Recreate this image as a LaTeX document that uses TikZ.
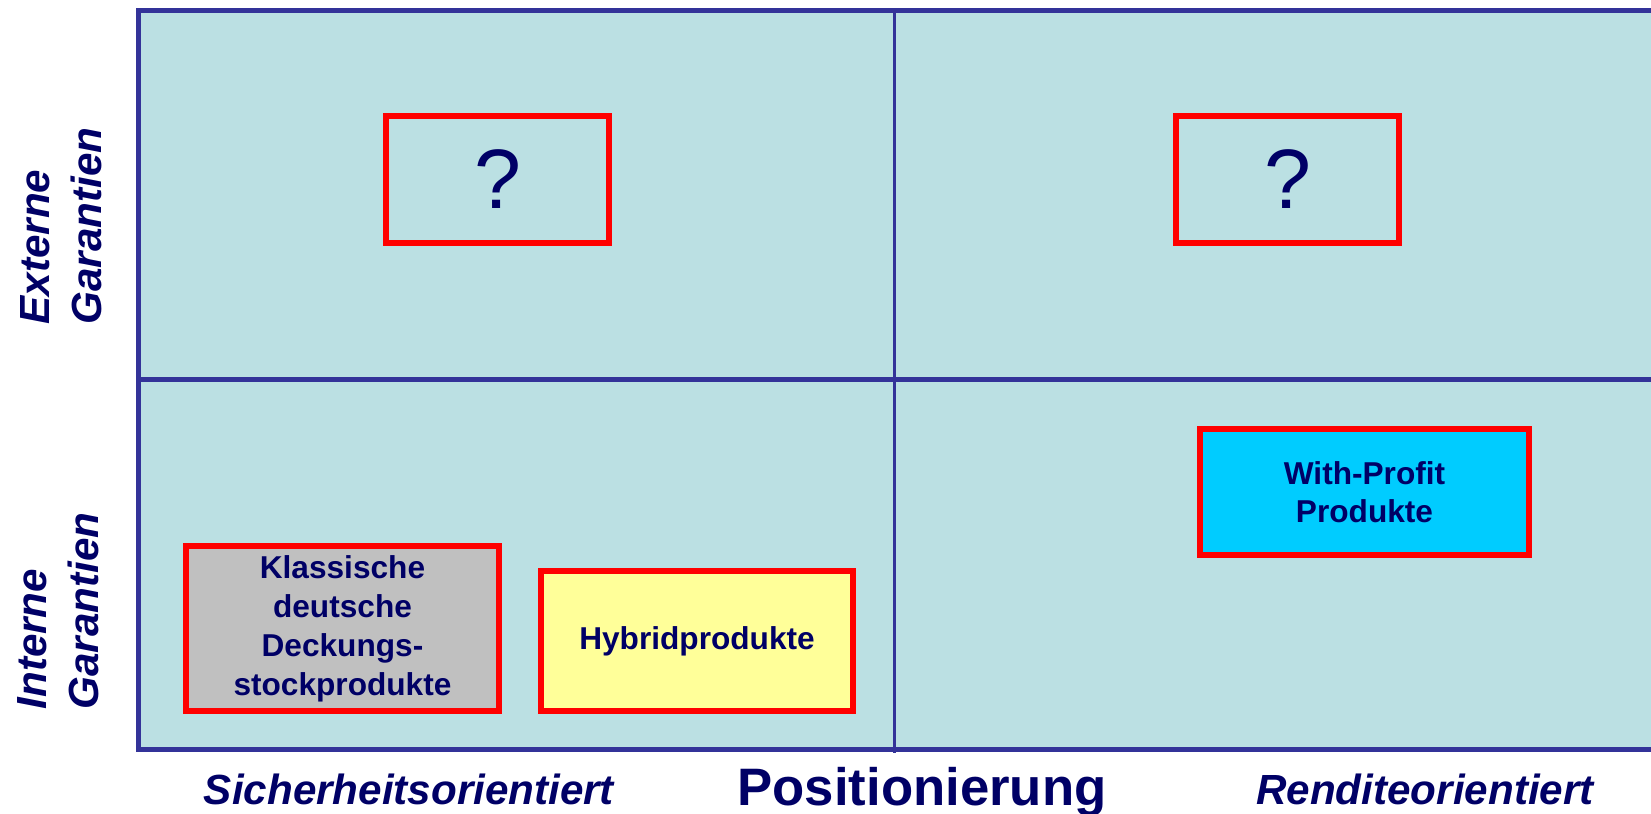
\documentclass[tikz,border=0pt]{standalone}
\usepackage{fontspec}
\setmainfont{Liberation Sans}
\usepackage{tikz}
\definecolor{quadrantTeal}{rgb}{0.733,0.878,0.890}
\definecolor{frameBlue}{rgb}{0.2,0.2,0.6}
\definecolor{textNavy}{rgb}{0,0,0.4}
\definecolor{productGray}{rgb}{0.753,0.753,0.753}
\definecolor{productYellow}{rgb}{1,1,0.6}
\definecolor{productCyan}{rgb}{0,0.8,1}

\begin{document}
\begin{tikzpicture}[x=0.02cm, y=-0.02cm,
  productBox/.style={draw=red, line width=0.12cm, inner sep=0pt, align=center, text=textNavy, font=\fontsize{18}{21.5}\selectfont\bfseries},
  openBox/.style={productBox, minimum width=4.46cm, minimum height=2.54cm, font=\fontsize{48}{56}\selectfont},
  axisLabel/.style={text=textNavy, inner sep=0pt, font=\fontsize{24}{29.5}\selectfont\bfseries\itshape}]
  \clip (0,0) rectangle (1651,814);
	% matrix frame
	\draw[line width=0.1cm, frameBlue, fill=quadrantTeal] (138,10.5) rectangle (1670,749);
	\draw[line width=0.1cm, frameBlue] (138,379.5) -- (1670,379.5);
	\draw[line width=0.06cm, frameBlue] (894,10.5) -- (894,753);
	% upper quadrants
	\node[openBox] (extSafe) at (497.5,179.5) {?};
	\node[openBox] (extYield) at (1287.5,179.5) {?};
	% lower quadrants
	\node[productBox, fill=productGray, minimum width=6.26cm, minimum height=3.3cm, font=\fontsize{18}{22.2}\selectfont\bfseries] (classic) at (342.5,628.5) {Klassische\\deutsche\\Deckungs-\\stockprodukte};
	\node[productBox, fill=productYellow, minimum width=6.24cm, minimum height=2.8cm] (hybrid) at (697,641) {Hybridprodukte};
	\node[productBox, fill=productCyan, minimum width=6.58cm, minimum height=2.52cm] (withProfit) at (1364.5,492) {With-Profit\\Produkte};
	% axis labels
	\node[axisLabel, rotate=90, align=left] (external) at (61,226) {Externe\\Garantien};
	\node[axisLabel, rotate=90, align=left] (internal) at (58,611) {Interne\\Garantien};
	\node[axisLabel, anchor=base] (safety) at (409,804) {Sicherheitsorientiert};
	\node[axisLabel, anchor=base, font=\fontsize{30}{36}\selectfont\bfseries] (position) at (922,805) {Positionierung};
	\node[axisLabel, anchor=base] (yield) at (1425,804) {Renditeorientiert};
\end{tikzpicture}
\end{document}
